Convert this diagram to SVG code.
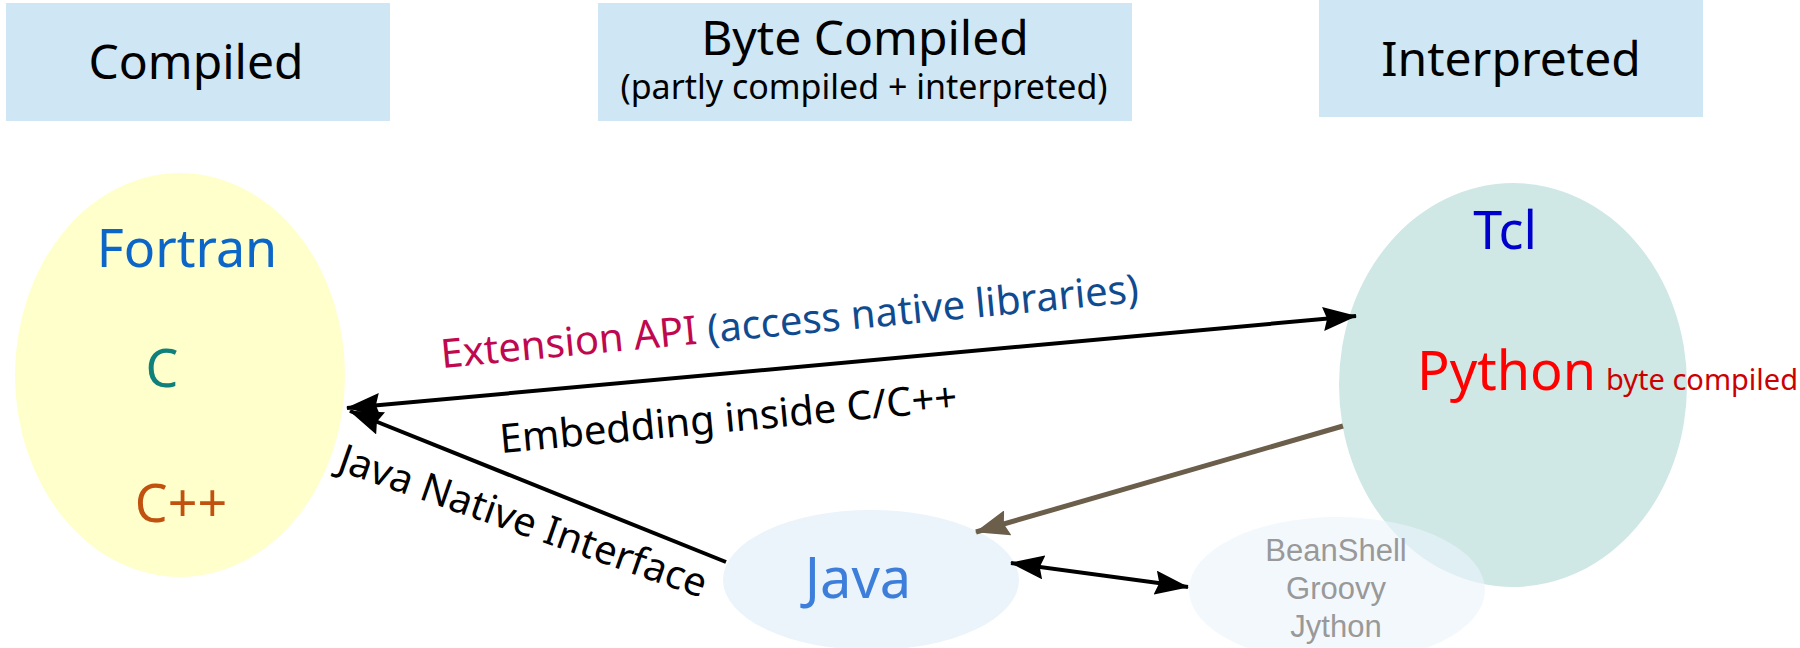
<svg xmlns="http://www.w3.org/2000/svg" width="1800" height="648" viewBox="0 0 1800 648">
<style>
.hdr{fill:#cfe6f4}
.t{font-family:"Noto Sans","Open Sans","DejaVu Sans",sans-serif}
.g{font-family:"Liberation Sans",Arial,sans-serif;fill:#999999;font-size:31px;text-anchor:middle}
.blk{stroke:#000;stroke-width:4;fill:none}
.brn{stroke:#6b5e4a;stroke-width:5;fill:none}
</style>
<defs>
<marker id="ah" viewBox="0 0 34 24" refX="33" refY="12" markerWidth="34" markerHeight="24" markerUnits="userSpaceOnUse" orient="auto-start-reverse"><path d="M0,0 L34,12 L0,24 L4,12 z" fill="#000"/></marker>
<marker id="ahb" viewBox="0 0 34 26" refX="33" refY="13" markerWidth="34" markerHeight="26" markerUnits="userSpaceOnUse" orient="auto"><path d="M0,0 L34,13 L0,26 L4,13 z" fill="#6b5e4a"/></marker>
</defs>
<rect width="1800" height="648" fill="#fff"/>
<g id="hdr-compiled"><rect class="hdr" x="6" y="3" width="384" height="118"/><text class="t" x="196" y="79" font-size="48" text-anchor="middle">Compiled</text></g>
<g id="hdr-byte"><rect class="hdr" x="598" y="3" width="534" height="118"/><text class="t" x="865" y="55" font-size="48" text-anchor="middle">Byte Compiled</text><text class="t" x="864" y="99" font-size="34" text-anchor="middle">(partly compiled + interpreted)</text></g>
<g id="hdr-interp"><rect class="hdr" x="1319" y="0" width="384" height="117"/><text class="t" x="1511" y="76" font-size="48" text-anchor="middle">Interpreted</text></g>
<g id="compiled"><ellipse cx="180" cy="375" rx="165" ry="202" fill="#ffffcc"/><text class="t" x="187" y="267" font-size="52" fill="#0b66c8" text-anchor="middle">Fortran</text><text class="t" x="162" y="387" font-size="52" fill="#10807a" text-anchor="middle">C</text><text class="t" x="181" y="522" font-size="52" fill="#c1510e" text-anchor="middle">C++</text></g>
<g id="interpreted"><ellipse cx="1513" cy="385" rx="174" ry="202" fill="#cfe8e5"/><text class="t" x="1505" y="249" font-size="52" fill="#0000cc" text-anchor="middle">Tcl</text><text class="t" x="1417" y="390" font-size="54" fill="#ff0000">Python</text><text class="t" x="1606" y="390" font-size="29" fill="#cc0000">byte compiled</text></g>
<g id="java"><ellipse cx="871" cy="580" rx="148" ry="70" fill="#ebf4fb"/><text class="t" x="858" y="598" font-size="56" fill="#3d7edb" text-anchor="middle">Java</text></g>
<g id="jvmlangs"><ellipse cx="1337" cy="590" rx="148" ry="73" fill="#ebf4fb" fill-opacity="0.6"/><text class="g" x="1336" y="561">BeanShell</text><text class="g" x="1336" y="599">Groovy</text><text class="g" x="1336" y="637">Jython</text></g>
<g id="connectors">
<path class="blk" d="M347,408 L1356,316" marker-start="url(#ah)" marker-end="url(#ah)"/>
<path class="blk" d="M726,562 L350,411" marker-end="url(#ah)"/>
<path class="brn" d="M1343,426 L976,532" marker-end="url(#ahb)"/>
<path class="blk" d="M1011,563 L1188,587" marker-start="url(#ah)" marker-end="url(#ah)"/>
<text class="t" font-size="40" transform="translate(442,368) rotate(-5.4)"><tspan fill="#c0084f">Extension API </tspan><tspan fill="#114b8f">(access native libraries)</tspan></text>
<text class="t" font-size="40" transform="translate(501,453) rotate(-5.3)">Embedding inside C/C++</text>
<text class="t" font-size="40" transform="translate(336,470) rotate(19.3)">Java Native Interface</text>
</g>
</svg>
